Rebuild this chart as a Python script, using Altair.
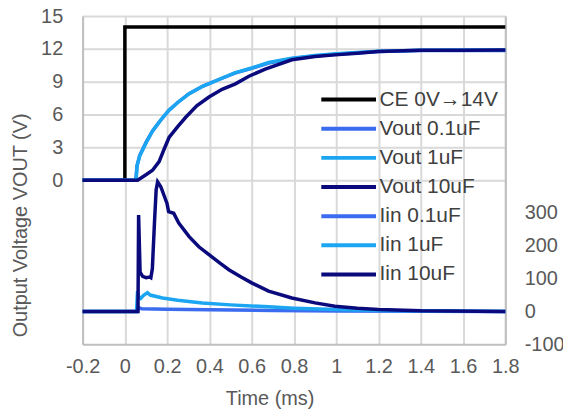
import altair as alt
import pandas as pd

# ---- data ----
names = ["CE 0V→14V", "Vout 0.1uF", "Vout 1uF", "Vout 10uF", "Iin 0.1uF", "Iin 1uF", "Iin 10uF"]
colors = ["#000000", "#3B6CF0", "#1CA6F2", "#0A0A7D", "#3B6CF0", "#1CA6F2", "#0A0A7D"]

x_ticks = [-0.2, 0, 0.2, 0.4, 0.6, 0.8, 1, 1.2, 1.4, 1.6, 1.8]
left_ticks = [0, 3, 6, 9, 12, 15]
right_ticks = [-100, 0, 100, 200, 300]

ce_t = [-0.2, 0.0, 0.0, 1.8]
ce_v = [0, 0, 14, 14]

v01_t = [-0.2, 0.052, 0.057, 0.07, 0.1, 0.131, 0.17, 0.209, 0.25, 0.304, 0.37, 0.445, 0.52, 0.6, 0.68, 0.79, 0.9, 1.0, 1.2, 1.4, 1.6, 1.8]
v01_v = [0, 0, 1.3, 2.25, 3.45, 4.5, 5.5, 6.4, 7.1, 7.9, 8.6, 9.2, 9.78, 10.22, 10.7, 11.1, 11.35, 11.5, 11.75, 11.85, 11.85, 11.85]

v1_t = [-0.2, 0.053, 0.058, 0.07, 0.1, 0.131, 0.17, 0.209, 0.25, 0.304, 0.37, 0.445, 0.52, 0.6, 0.68, 0.79, 0.9, 1.0, 1.2, 1.4, 1.6, 1.8]
v1_v = [0, 0, 1.3, 2.2, 3.4, 4.5, 5.5, 6.4, 7.1, 7.9, 8.6, 9.2, 9.8, 10.25, 10.75, 11.15, 11.4, 11.55, 11.78, 11.88, 11.9, 11.9]

v10_t = [-0.2, 0.06, 0.1, 0.131, 0.162, 0.185, 0.209, 0.25, 0.288, 0.34, 0.398, 0.46, 0.523, 0.587, 0.664, 0.79, 0.9, 0.994, 1.1, 1.198, 1.4, 1.6, 1.8]
v10_v = [0, 0, 0.5, 0.9, 1.7, 2.8, 3.9, 4.9, 5.75, 6.8, 7.6, 8.3, 8.8, 9.5, 10.15, 11.0, 11.3, 11.45, 11.6, 11.75, 11.88, 11.88, 11.9]

i01_t = [-0.2, 0.06, 0.065, 0.08, 0.2, 0.4, 0.7, 1.0, 1.8]
i01_i = [0, 0, 12, 8, 7, 5, 3, 1, 0]

i1_t = [-0.2, 0.055, 0.06, 0.065, 0.075, 0.09, 0.107, 0.12, 0.178, 0.25, 0.366, 0.5, 0.68, 0.8, 1.0, 1.2, 1.8]
i1_i = [0, 0, 62, 45, 40, 50, 57, 50, 41, 34, 26, 20, 14, 10, 6, 3, 0]

i10_t = [-0.2, 0.053, 0.062, 0.065, 0.072, 0.084, 0.1, 0.118, 0.123, 0.13, 0.14, 0.148, 0.155, 0.17, 0.199, 0.207, 0.231, 0.255, 0.304, 0.35, 0.398, 0.45, 0.492, 0.55, 0.6, 0.68, 0.79, 0.9, 0.994, 1.1, 1.2, 1.4, 1.8]
i10_i = [0, 0, 0, 294, 120, 107, 103, 105, 103, 130, 270, 370, 395, 380, 330, 304, 299, 269, 228, 197, 173, 147, 127, 105, 87, 62, 41, 26, 16, 10, 6, 2, 0]


def frame(series_list):
    rows = []
    for name, ts, ys in series_list:
        for k, (t, y) in enumerate(zip(ts, ys)):
            rows.append({"series": name, "t": t, "y": y, "idx": k})
    return pd.DataFrame(rows)


df_left = frame([
    (names[0], ce_t, ce_v),
    (names[1], v01_t, v01_v),
    (names[2], v1_t, v1_v),
    (names[3], v10_t, v10_v),
])
df_right = frame([
    (names[4], i01_t, i01_i),
    (names[5], i1_t, i1_i),
    (names[6], i10_t, i10_i),
])

FONT = "Liberation Sans"

x_enc = alt.X(
    "t:Q",
    scale=alt.Scale(domain=[-0.2, 1.8], nice=False, zero=False),
    axis=alt.Axis(
        values=x_ticks, labelExpr="'' + datum.value", title="Time (ms)",
        labelPadding=12, labelFlush=False, labelOverlap=False,
        titleX=188, titleY=55, titleBaseline="middle",
    ),
)

color_enc = alt.Color(
    "series:N",
    scale=alt.Scale(domain=names, range=colors),
    legend=alt.Legend(
        title=None, orient="none", legendX=257, legendY=73.5,
        symbolType="M-5,0H5", symbolSize=121, symbolStrokeWidth=4,
        labelFont=FONT, labelFontSize=21, labelColor="#404040",
        labelOffset=20.5, rowPadding=7.3, padding=0,
    ),
)

left = alt.Chart(df_left).mark_line(strokeWidth=3.5).encode(
    x=x_enc,
    y=alt.Y(
        "y:Q",
        scale=alt.Scale(domain=[-15, 15], nice=False, zero=False),
        axis=alt.Axis(
            values=left_ticks, labelExpr="'' + datum.value",
            title="Output Voltage VOUT (V)", labelPadding=20,
            labelFlush=False, labelOverlap=False,
            titleX=-62, titleY=210, titleAngle=-90, titleBaseline="middle", titleAlign="center",
        ),
    ),
    color=color_enc,
    order=alt.Order("idx:Q"),
)

right = alt.Chart(df_right).mark_line(strokeWidth=3.5).encode(
    x=x_enc,
    y=alt.Y(
        "y:Q",
        scale=alt.Scale(domain=[-100, 900], nice=False, zero=False),
        axis=alt.Axis(
            orient="right", values=right_ticks, labelExpr="'' + datum.value",
            title=None, labelPadding=19, labelFlush=False, labelOverlap=False,
        ),
    ),
    color=color_enc,
    order=alt.Order("idx:Q"),
)

chart = (
    alt.layer(left, right)
    .resolve_scale(y="independent")
    .properties(
        width=425, height=330,
        autosize=alt.AutoSizeParams(type="none"),
        padding={"left": 75, "top": 7, "right": 58, "bottom": 65},
    )
    .configure_view(stroke=None)
    .configure_axis(
        labelFont=FONT, labelFontSize=20, labelColor="#595959",
        titleFont=FONT, titleFontSize=20, titleFontWeight="normal", titleColor="#595959",
        grid=True, gridColor="#d9d9d9", gridWidth=2,
        domainColor="#bfbfbf", domainWidth=2, ticks=False,
    )
)

chart.save("out.html", embed_options={"renderer": "svg", "actions": False})
